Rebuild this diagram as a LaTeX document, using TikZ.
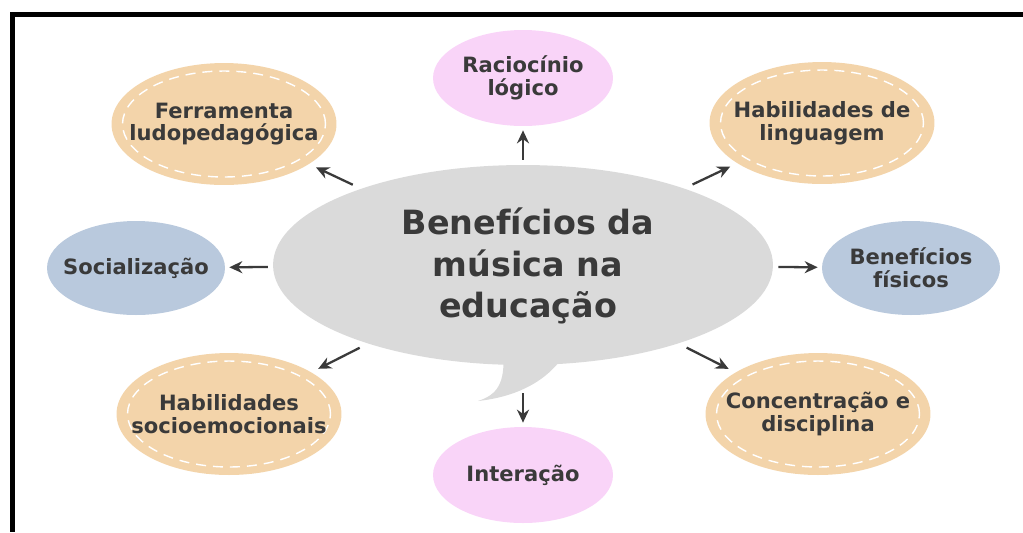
\documentclass[tikz,border=0pt]{standalone}
\usepackage{fontspec}
\setmainfont{DejaVu Sans}
\usepackage{xcolor}
\definecolor{bubblegray}{RGB}{218,218,218}
\definecolor{sand}{RGB}{243,212,170}
\definecolor{lilac}{RGB}{249,212,248}
\definecolor{steel}{RGB}{185,201,221}
\definecolor{inkgray}{RGB}{58,58,58}
\usetikzlibrary{shapes,arrows.meta,positioning}

\begin{document}
\begin{tikzpicture}[
    x=0.02cm, y=-0.02cm,
    benefit/.style={ellipse, inner sep=0pt},
    sandbox/.style={benefit, fill=sand, minimum width=4.5cm, minimum height=2.44cm,
        path picture={\draw[white, line width=0.8pt, dash pattern=on 0.2cm off 0.14cm]
            (path picture bounding box.center) ellipse [x radius=2.03cm, y radius=1.06cm];}},
    lilacbox/.style={benefit, fill=lilac, minimum width=3.6cm, minimum height=1.92cm},
    steelbox/.style={benefit, fill=steel, minimum width=3.56cm, minimum height=1.88cm},
    bubble/.style={benefit, fill=bubblegray, minimum width=10cm, minimum height=4cm},
    txt/.style={align=center, text=inkgray, font=\fontsize{12}{13}\selectfont\bfseries},
    headline/.style={align=center, text=inkgray, font=\fontsize{19}{23.5}\selectfont\bfseries},
    arrow/.style={-{Stealth[length=2.6mm, width=2.4mm]}, line width=1.3pt, draw=inkgray,
        shorten <=0.1cm, shorten >=0.08cm},
    diag/.style={shorten <=0.18cm, shorten >=0.15cm},
    frame/.style={line width=0.1cm, black}
]
\useasboundingbox (0,0) rectangle (1023,532);
\draw[frame] (1023,14.2) -| (12.5,532);

% speech bubble
\fill[bubblegray] (503,350) .. controls (506,385) and (496,395) .. (478,401)
    .. controls (515,397) and (548,382) .. (566,352) -- cycle;
\node[bubble] (bubble) at (523,265) {};
\node[headline] (title) at (528,266) {Benefícios da\\música na\\educação};

% benefits
\node[lilacbox] (racio) at (523,78) {};
\node[txt] (racio-t) at (racio) {Raciocínio\\lógico};
\node[sandbox] (ferra) at (224,124) {};
\node[txt] (ferra-t) at (ferra) {Ferramenta\\ludopedagógica};
\node[sandbox] (lingua) at (822,123) {};
\node[txt] (lingua-t) at (lingua) {Habilidades de\\linguagem};
\node[steelbox] (social) at (136,268) {};
\node[txt] (social-t) at (social) {Socialização};
\node[steelbox] (fisico) at (911,268) {};
\node[txt] (fisico-t) at (fisico) {Benefícios\\físicos};
\node[sandbox] (socio) at (229,414) {};
\node[txt] (socio-t) at (socio) {Habilidades\\socioemocionais};
\node[sandbox] (concen) at (818,414) {};
\node[txt] (concen-t) at (concen) {Concentração e\\disciplina};
\node[lilacbox] (inter) at (523,475) {};
\node[txt] (inter-t) at (inter) {Interação};

\draw[arrow] (bubble) -- (racio);
\draw[arrow, diag] (bubble) -- (ferra);
\draw[arrow, diag] (bubble) -- (lingua);
\draw[arrow] (bubble) -- (social);
\draw[arrow] (bubble) -- (fisico);
\draw[arrow, diag] (bubble) -- (socio);
\draw[arrow, diag] (bubble) -- (concen);
\draw[arrow, shorten <=0.56cm] (bubble) -- (inter);

\end{tikzpicture}
\end{document}
